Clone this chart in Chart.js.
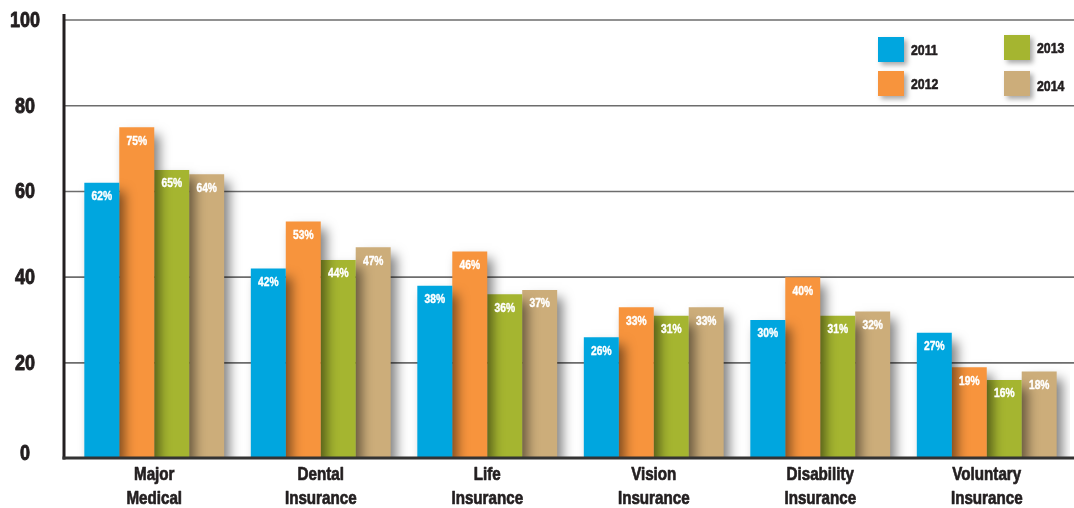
<!DOCTYPE html>
<html>
<head>
<meta charset="utf-8">
<script src="https://cdn.jsdelivr.net/npm/chart.js@4.4.1/dist/chart.umd.min.js"></script>
<style>
  html, body { margin: 0; padding: 0; background: #fff; }
  #wrap { width: 1074px; height: 508px; position: relative; }
</style>
</head>
<body>
<div id="wrap"><canvas id="c" width="1074" height="508"></canvas></div>
<script>
const categories = [["Major", "Medical"], ["Dental", "Insurance"], ["Life", "Insurance"], ["Vision", "Insurance"], ["Disability", "Insurance"], ["Voluntary", "Insurance"]];
const years = ["2011", "2012", "2013", "2014"];
const values2011 = [62, 42, 38, 26, 30, 27];
const values2012 = [75, 53, 46, 33, 40, 19];
const values2013 = [65, 44, 36, 31, 31, 16];
const values2014 = [64, 47, 37, 33, 32, 18];
const yTicks = [0, 20, 40, 60, 80, 100];

const colors = ["#00a6df", "#f7943d", "#a5b530", "#ccad7a"];
const FONT = "'Liberation Sans', Arial, Helvetica, sans-serif";
const NARROW = 0.82;   // horizontal squeeze to mimic a condensed face
const TEXT = '#231f20';
const Y_MIN = -2.2;

const seriesValues = [values2011, values2012, values2013, values2014];

function narrowText(ctx, str, x, y, size, color, align, heavy) {
  ctx.save();
  ctx.font = 'bold ' + size + 'px ' + FONT;
  ctx.fillStyle = color;
  ctx.strokeStyle = color;
  ctx.lineWidth = heavy;
  ctx.lineJoin = 'round';
  ctx.textAlign = align;
  ctx.textBaseline = 'middle';
  ctx.translate(x, y);
  ctx.scale(NARROW, 1);
  ctx.fillText(str, 0, 0);
  if (heavy > 0) ctx.strokeText(str, 0, 0);
  ctx.restore();
}

const gridPlugin = {
  id: 'customGrid',
  beforeDatasetsDraw(chart) {
    const ctx = chart.ctx, y = chart.scales.y, area = chart.chartArea;
    ctx.save();
    ctx.strokeStyle = '#6d6d6d';
    ctx.lineWidth = 1.6;
    y.ticks.forEach(t => {
      if (t.value === 0) return;
      const py = y.getPixelForValue(t.value);
      ctx.beginPath();
      ctx.moveTo(area.left - 7, py);
      ctx.lineTo(chart.width, py);
      ctx.stroke();
    });
    ctx.restore();
  },
  beforeDatasetDraw(chart) {
    const ctx = chart.ctx;
    ctx.save();
    ctx.shadowColor = 'rgba(0,0,0,0.5)';
    ctx.shadowBlur = 11;
    ctx.shadowOffsetX = 6;
    ctx.shadowOffsetY = 8;
  },
  afterDatasetDraw(chart) {
    chart.ctx.restore();
  },
  afterDatasetsDraw(chart) {
    const ctx = chart.ctx, area = chart.chartArea, y = chart.scales.y, x = chart.scales.x;
    // value labels inside bars
    chart.data.datasets.forEach((ds, di) => {
      const meta = chart.getDatasetMeta(di);
      meta.data.forEach((bar, i) => {
        narrowText(ctx, ds.data[i] + '%', bar.x, bar.y + 14, 12.5, '#ffffff', 'center', 0.4);
      });
    });
    // axis lines
    ctx.save();
    ctx.strokeStyle = TEXT;
    ctx.lineWidth = 3;
    ctx.beginPath();
    ctx.moveTo(area.left - 7, y.getPixelForValue(100) - 6);
    ctx.lineTo(area.left - 7, area.bottom + 1.5);
    ctx.stroke();
    ctx.strokeStyle = '#333333';
    ctx.beginPath();
    ctx.moveTo(area.left - 8.5, area.bottom);
    ctx.lineTo(chart.width, area.bottom);
    ctx.stroke();
    ctx.restore();
    // y tick labels
    y.ticks.forEach(t => {
      narrowText(ctx, String(t.value), 25, y.getPixelForValue(t.value) + (t.value === 0 ? 5 : 1), 22, TEXT, 'center', 0.9);
    });
    // x category labels (two lines)
    chart.data.labels.forEach((lab, i) => {
      const px = x.getPixelForTick(i);
      lab.forEach((line, li) => {
        narrowText(ctx, line, px, area.bottom + 17 + li * 24, 18.5, TEXT, 'center', 0.7);
      });
    });
  },
  afterDraw(chart) {
    // legend in two columns
    const ctx = chart.ctx;
    const spots = [
      {x: 878, y: 37, tx: 911, ty: 51},
      {x: 878, y: 71, tx: 911, ty: 85},
      {x: 1004, y: 35, tx: 1037, ty: 49},
      {x: 1004, y: 71, tx: 1037, ty: 87}
    ];
    chart.data.datasets.forEach((ds, i) => {
      const s = spots[i];
      ctx.save();
      ctx.shadowColor = 'rgba(0,0,0,0.35)';
      ctx.shadowBlur = 5;
      ctx.shadowOffsetX = 3;
      ctx.shadowOffsetY = 3;
      ctx.fillStyle = ds.backgroundColor;
      ctx.fillRect(s.x, s.y, 26, 25);
      ctx.restore();
      narrowText(ctx, ds.label, s.tx, s.ty, 15, TEXT, 'left', 0.6);
    });
  }
};

new Chart(document.getElementById('c'), {
  type: 'bar',
  data: {
    labels: categories,
    datasets: years.map((yr, i) => ({
      label: yr,
      data: seriesValues[i],
      backgroundColor: colors[i],
      borderWidth: 0,
      base: Y_MIN,
      categoryPercentage: 0.84,
      barPercentage: 1.0
    }))
  },
  options: {
    responsive: false,
    animation: false,
    devicePixelRatio: 1,
    layout: { padding: { top: 20, right: 4, left: 0, bottom: 0 } },
    plugins: { legend: { display: false }, tooltip: { enabled: false } },
    scales: {
      x: {
        grid: { display: false, drawTicks: false },
        border: { display: false },
        ticks: { display: false, autoSkip: false },
        afterFit(scale) { scale.height = 50; scale.paddingLeft = 0; scale.paddingRight = 0; }
      },
      y: {
        min: Y_MIN,
        max: 100,
        grid: { display: false, drawTicks: false },
        border: { display: false },
        afterBuildTicks(scale) { scale.ticks = yTicks.map(v => ({ value: v })); },
        afterFit(scale) { scale.width = 71; scale.paddingTop = 0; scale.paddingBottom = 0; },
        ticks: { display: false }
      }
    }
  },
  plugins: [gridPlugin]
});
</script>
</body>
</html>
